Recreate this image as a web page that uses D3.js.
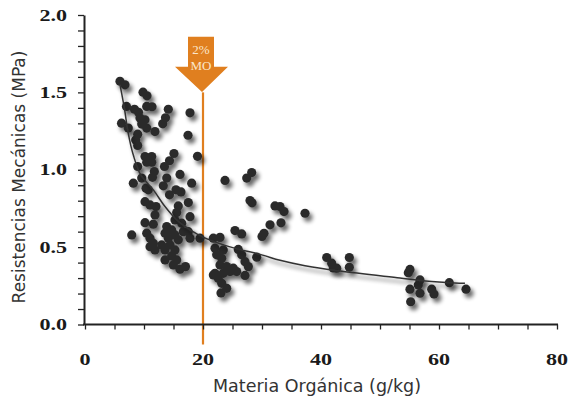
<!DOCTYPE html>
<html>
<head>
<meta charset="utf-8">
<script src="https://cdn.jsdelivr.net/npm/d3@7"></script>
<style>
  body { margin: 0; background: #fff; }
  svg { display: block; }
</style>
</head>
<body>
<div id="chart"></div>
<script>
// materia organica (g/kg) vs resistencia (MPa)
const moX = [
  5.93, 6.78, 9.83, 10.51, 7.03, 8.39, 9.07, 10.46, 11.36, 14.12, 13.64, 17.80, 6.19, 7.34,
  9.32, 10.17, 9.61, 10.46, 13.17, 11.86, 8.93, 8.59, 8.93, 17.46, 10.17, 11.31, 10.46, 11.31,
  15.08, 14.32, 13.47, 8.93, 19.07, 11.75, 16.10, 23.73, 8.19, 9.61, 11.44, 13.85, 18.08, 13.27,
  15.42, 16.27, 10.73, 14.32, 10.34, 10.17, 11.02, 12.03, 11.86, 17.51, 15.81, 15.54, 17.80, 10.17,
  11.58, 15.25, 16.39, 13.85, 14.69, 13.56, 15.25, 14.12, 15.81, 16.66, 17.51, 17.80, 7.92, 10.46,
  11.02, 11.58, 11.86, 11.02, 13.56, 15.25, 14.69, 15.54, 13.56, 14.97, 16.10, 17.03, 13.00, 14.41,
  19.49, 21.75, 22.88, 25.42, 26.56, 30.00, 30.34, 31.36, 33.22, 22.03, 23.44, 22.32, 23.17, 25.98,
  26.56, 27.12, 27.68, 29.10, 22.88, 24.02, 25.14, 22.03, 23.44, 24.58, 25.71, 22.59, 27.12, 23.17,
  24.02, 23.05, 21.75, 27.41, 28.25, 27.97, 28.31, 32.20, 33.05, 33.73, 37.29, 40.97, 44.80, 41.81,
  42.66, 44.80, 42.08, 55.08, 54.80, 56.78, 56.49, 55.08, 56.78, 58.76, 59.15, 55.20, 61.75, 64.58
];
const resY = [
  1.572, 1.549, 1.501, 1.478, 1.409, 1.391, 1.371, 1.409, 1.407, 1.391, 1.336, 1.368, 1.301, 1.269,
  1.334, 1.323, 1.295, 1.269, 1.297, 1.247, 1.230, 1.193, 1.157, 1.223, 1.085, 1.085, 1.049, 1.049,
  1.105, 1.058, 1.021, 1.021, 1.087, 0.988, 0.970, 0.931, 0.913, 0.946, 0.951, 0.946, 0.913, 0.896,
  0.870, 0.857, 0.870, 0.838, 0.881, 0.794, 0.773, 0.762, 0.708, 0.788, 0.766, 0.723, 0.697, 0.658,
  0.648, 0.676, 0.655, 0.633, 0.611, 0.590, 0.579, 0.558, 0.547, 0.600, 0.600, 0.558, 0.579, 0.590,
  0.558, 0.525, 0.482, 0.503, 0.482, 0.482, 0.443, 0.417, 0.417, 0.385, 0.357, 0.374, 0.514, 0.514,
  0.558, 0.558, 0.563, 0.607, 0.585, 0.569, 0.589, 0.644, 0.657, 0.493, 0.482, 0.450, 0.428, 0.485,
  0.450, 0.406, 0.374, 0.435, 0.385, 0.374, 0.364, 0.331, 0.331, 0.342, 0.342, 0.299, 0.317, 0.266,
  0.234, 0.204, 0.320, 0.946, 0.982, 0.801, 0.786, 0.766, 0.762, 0.730, 0.719, 0.433, 0.433, 0.396,
  0.364, 0.370, 0.365, 0.356, 0.335, 0.288, 0.256, 0.228, 0.202, 0.228, 0.197, 0.147, 0.270, 0.228
];

// trend line, traced
const trendX = [5.93, 6.67, 7.34, 8.19, 9.4, 11.58, 13.56, 15.54, 18.08, 20.0, 24.29, 29.95, 33.05, 37.29, 43.22, 53.39, 56.78, 61.3, 64.4];
const trendY = [1.55, 1.398, 1.234, 1.095, 0.97, 0.870, 0.762, 0.676, 0.605, 0.565, 0.505, 0.45, 0.415, 0.38, 0.345, 0.3, 0.285, 0.272, 0.266];

const xMajor = [0, 20, 40, 60, 80];
const yMajor = [0.0, 0.5, 1.0, 1.5, 2.0];
const markerX = 20;
const markerText = ["2%", "MO"];

const W = 571, H = 398;
const orange = "#e07f1f";

const svg = d3.select("#chart").append("svg")
  .attr("width", W).attr("height", H);

const defs = svg.append("defs");
const f = defs.append("filter").attr("id", "shadow")
  .attr("x", "-50%").attr("y", "-50%").attr("width", "200%").attr("height", "200%");
f.append("feGaussianBlur").attr("in", "SourceAlpha").attr("stdDeviation", 2.2).attr("result", "b");
f.append("feOffset").attr("in", "b").attr("dx", 3).attr("dy", 4).attr("result", "o");
f.append("feComponentTransfer").attr("in", "o").attr("result", "s")
  .append("feFuncA").attr("type", "linear").attr("slope", 0.6);
const m = f.append("feMerge");
m.append("feMergeNode").attr("in", "s");
m.append("feMergeNode").attr("in", "SourceGraphic");

const x = d3.scaleLinear().domain([0, 80]).range([85, 557]);
const y = d3.scaleLinear().domain([0, 2]).range([324.5, 15]);

// orange marker line (behind dots)
svg.append("line")
  .attr("x1", x(markerX)).attr("x2", x(markerX))
  .attr("y1", y(1.5)).attr("y2", y(0) + 20)
  .attr("stroke", orange).attr("stroke-width", 2.2);

// dots
const pts = moX.map((v, i) => ({ x: v, y: resY[i] }));
svg.append("g").attr("filter", "url(#shadow)")
  .selectAll("circle").data(pts).join("circle")
  .attr("cx", d => x(d.x)).attr("cy", d => y(d.y))
  .attr("r", 4.6).attr("fill", "#2b2b2b");

// trend line
const trend = trendX.map((v, i) => [v, trendY[i]]);
svg.append("path")
  .datum(trend)
  .attr("filter", "url(#shadow)")
  .attr("fill", "none").attr("stroke", "#333").attr("stroke-width", 1.5)
  .attr("d", d3.line().x(d => x(d[0])).y(d => y(d[1])).curve(d3.curveCatmullRom.alpha(0.5)));

// arrow
const ax = x(markerX);
const arrow = [
  [ax - 15, y(1.86)], [ax + 11, y(1.86)], [ax + 11, y(1.665)], [ax + 25, y(1.665)],
  [ax - 1, y(1.502)], [ax - 28, y(1.665)], [ax - 15, y(1.665)]
];
svg.append("polygon")
  .attr("points", arrow.map(p => p.join(",")).join(" "))
  .attr("fill", orange);
svg.append("g").selectAll("text").data(markerText).join("text")
  .attr("x", ax - 2).attr("y", (d, i) => 53.5 + i * 16.5)
  .attr("text-anchor", "middle")
  .attr("font-family", "'Liberation Serif', 'Times New Roman', serif")
  .attr("font-size", 13).attr("fill", "#fbe6cc")
  .text(d => d);

// axes
const xAxis = d3.axisBottom(x).tickValues(d3.range(0, 81, 5)).tickSize(5).tickSizeOuter(0).tickFormat("");
const yAxis = d3.axisLeft(y).tickValues(d3.range(0, 21).map(i => i / 10)).tickSize(6).tickSizeOuter(0).tickFormat("");

const gx = svg.append("g").attr("transform", `translate(0,${y(0)})`).call(xAxis);
const gy = svg.append("g").attr("transform", `translate(84,0)`).call(yAxis);
[gx, gy].forEach(g => {
  g.select(".domain").attr("stroke", "#222").attr("stroke-width", 2);
  g.selectAll(".tick line").attr("stroke", "#222").attr("stroke-width", 1.3);
});
gx.select(".domain").attr("d", `M83,0H558`);

// tick labels: wide bold serif, stretched horizontally like the original
const tickFont = "'Liberation Serif', 'Times New Roman', serif";
svg.append("g").selectAll("text").data(xMajor).join("text")
  .attr("transform", d => `translate(${x(d)},365) scale(1.3,1)`)
  .attr("text-anchor", "middle")
  .attr("font-family", tickFont).attr("font-weight", "bold").attr("font-size", 17)
  .attr("fill", "#1a1a1a").text(d => d);
svg.append("g").selectAll("text").data(yMajor).join("text")
  .attr("transform", d => `translate(67,${y(d)}) scale(1.3,1)`)
  .attr("dy", "0.33em")
  .attr("text-anchor", "end")
  .attr("font-family", tickFont).attr("font-weight", "bold").attr("font-size", 17)
  .attr("fill", "#1a1a1a").text(d => d.toFixed(1));

// axis titles
svg.append("text")
  .attr("x", 317).attr("y", 392)
  .attr("text-anchor", "middle")
  .attr("font-family", "'DejaVu Sans', Verdana, sans-serif").attr("font-size", 17.5)
  .attr("fill", "#333").text("Materia Orgánica (g/kg)");
svg.append("text")
  .attr("transform", "translate(25,177) rotate(-90)")
  .attr("text-anchor", "middle")
  .attr("font-family", "'DejaVu Sans', Verdana, sans-serif").attr("font-size", 17)
  .attr("fill", "#333").text("Resistencias Mecánicas (MPa)");
</script>
</body>
</html>
